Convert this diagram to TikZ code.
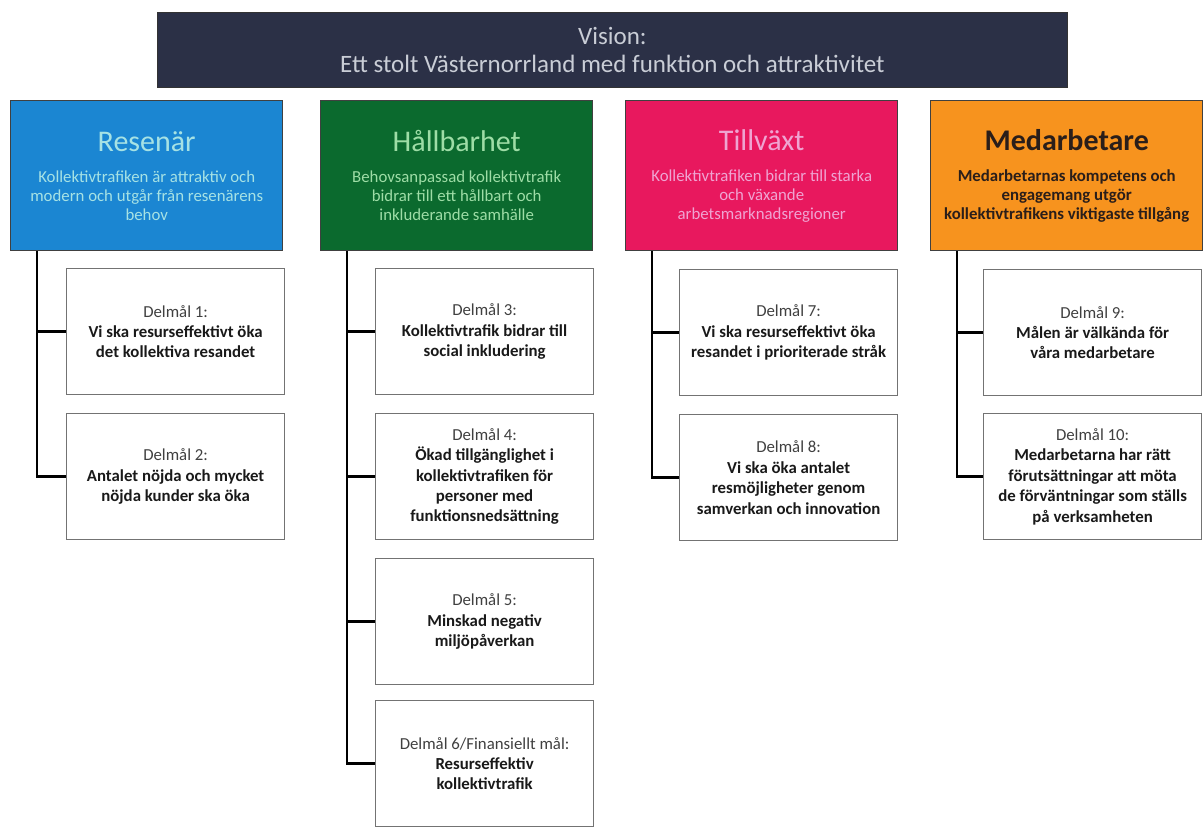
\documentclass[tikz,border=0pt]{standalone}
\usepackage{fontspec}
\setmainfont{Carlito}
\usetikzlibrary{positioning}

\definecolor{visionbg}{HTML}{2B3046}
\definecolor{visiontxt}{HTML}{C9CDD6}
\definecolor{resblue}{HTML}{1B86D2}
\definecolor{restxt}{HTML}{A6E2E4}
\definecolor{hallgreen}{HTML}{0B6A2E}
\definecolor{halltxt}{HTML}{9EDDA6}
\definecolor{tillpink}{HTML}{E8185E}
\definecolor{tilltxt}{HTML}{EFA4D2}
\definecolor{medorange}{HTML}{F7931E}
\definecolor{medtxt}{HTML}{2A1E1A}

\newcommand\cattitle{\fontsize{15}{18}\selectfont}
\newcommand\catdesc{\fontsize{8.4}{9.5}\selectfont}
\newcommand\goalhead[1]{{\mdseries\color{black!75}#1}}

\begin{document}
\begin{tikzpicture}[x=0.5pt,y=-0.5pt,
    catbox/.style={draw=black!75, line width=0.7pt, anchor=north west,
      minimum width=136pt, minimum height=75pt, align=center, inner sep=2pt,
      font=\catdesc},
    goalbox/.style={draw=black!55, line width=0.6pt, anchor=north west,
      minimum width=109pt, minimum height=63pt, align=center, inner sep=2pt,
      font=\fontsize{8.4}{10.2}\selectfont\bfseries, text=black!90},
    spine/.style={line width=1.3pt, black}]
  \useasboundingbox (0,0) rectangle (1204,826);

  % vision banner
  \node[fill=visionbg, draw=black!80, anchor=north west, minimum width=455pt,
        minimum height=37.5pt, align=center, text=visiontxt,
        font=\fontsize{12.5}{14}\selectfont] (vision) at (157,12)
        {Vision:\\Ett stolt Västernorrland med funktion och attraktivitet};

  % focus areas
  \node[catbox, fill=resblue, text=restxt] (res) at (10,100)
    {{\cattitle Resenär}\\[6pt]Kollektivtrafiken är attraktiv och\\
     modern och utgår från resenärens\\ behov};
  \node[catbox, fill=hallgreen, text=halltxt] (hall) at (320,100)
    {{\cattitle Hållbarhet}\\[6pt]Behovsanpassad kollektivtrafik\\
     bidrar till ett hållbart och\\ inkluderande samhälle};
  \node[catbox, fill=tillpink, text=tilltxt] (till) at (625,100)
    {{\cattitle Tillväxt}\\[6pt]Kollektivtrafiken bidrar till starka\\
     och växande\\ arbetsmarknadsregioner};
  \node[catbox, fill=medorange, text=medtxt, font=\catdesc\bfseries] (med) at (930,100)
    {{\cattitle Medarbetare}\\[6pt]Medarbetarnas kompetens och\\
     engagemang utgör\\ kollektivtrafikens viktigaste tillgång};

  % sub goals
  \node[goalbox] (g1) at (66,268)
    {\goalhead{Delmål 1:}\\ Vi ska resurseffektivt öka\\ det kollektiva resandet};
  \node[goalbox] (g2) at (66,413)
    {\goalhead{Delmål 2:}\\ Antalet nöjda och mycket\\ nöjda kunder ska öka};
  \node[goalbox] (g3) at (375,268)
    {\goalhead{Delmål 3:}\\ Kollektivtrafik bidrar till\\ social inkludering};
  \node[goalbox] (g4) at (375,413)
    {\goalhead{Delmål 4:}\\ Ökad tillgänglighet i\\ kollektivtrafiken för\\
     personer med\\ funktionsnedsättning};
  \node[goalbox] (g5) at (375,558)
    {\goalhead{Delmål 5:}\\ Minskad negativ\\ miljöpåverkan};
  \node[goalbox] (g6) at (375,700)
    {\goalhead{Delmål 6/Finansiellt mål:}\\ Resurseffektiv\\ kollektivtrafik};
  \node[goalbox] (g7) at (679,269)
    {\goalhead{Delmål 7:}\\ Vi ska resurseffektivt öka\\ resandet i prioriterade stråk};
  \node[goalbox] (g8) at (679,414)
    {\goalhead{Delmål 8:}\\ Vi ska öka antalet\\ resmöjligheter genom\\
     samverkan och innovation};
  \node[goalbox] (g9) at (983,269)
    {\goalhead{Delmål 9:}\\ Målen är välkända för\\ våra medarbetare};
  \node[goalbox] (g10) at (983,413)
    {\goalhead{Delmål 10:}\\ Medarbetarna har rätt\\ förutsättningar att möta\\
     de förväntningar som ställs\\ på verksamheten};

  % spines
  \foreach \g/\c in {g1/res,g2/res,g3/hall,g4/hall,g5/hall,g6/hall,
                     g7/till,g8/till,g9/med,g10/med}
    \draw[spine] ([xshift=13.5pt]\c.south west) |- (\g.west);
\end{tikzpicture}
\end{document}
